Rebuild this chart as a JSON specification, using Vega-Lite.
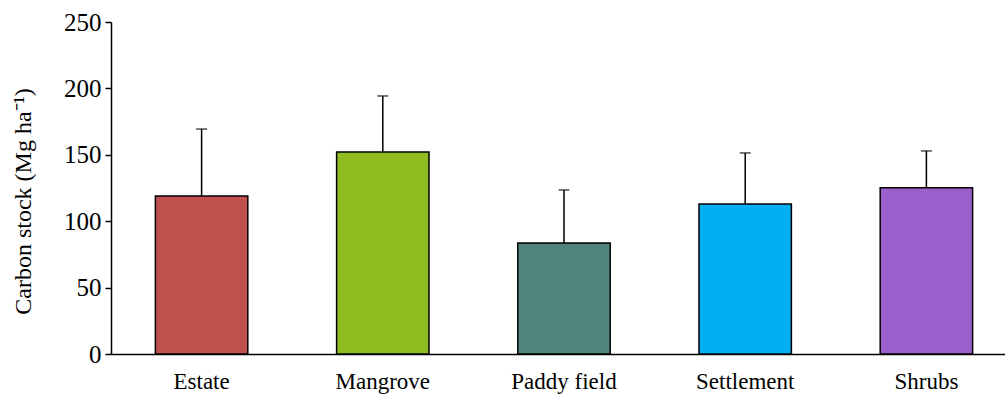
{
  "$schema": "https://vega.github.io/schema/vega-lite/v6.json",
  "autosize": "none",
  "width": 906,
  "height": 332,
  "padding": {"left": 111, "top": 22, "right": 0, "bottom": 40},
  "background": "white",
  "config": {
    "view": {"stroke": null},
    "font": "Liberation Serif",
    "axis": {"grid": false, "domainColor": "black", "domainWidth": 1.5, "tickColor": "black", "tickWidth": 1.5, "labelColor": "black", "titleColor": "black", "labelFont": "Liberation Serif", "titleFont": "Liberation Serif", "labelFontSize": 23, "titleFontSize": 24, "titleFontWeight": "normal"}
  },
  "data": {
    "values": [
      {"landuse": "Estate", "stock": 119.0, "upper": 169.4},
      {"landuse": "Mangrove", "stock": 152.1, "upper": 194.3},
      {"landuse": "Paddy field", "stock": 83.6, "upper": 123.5},
      {"landuse": "Settlement", "stock": 113.0, "upper": 151.4},
      {"landuse": "Shrubs", "stock": 125.2, "upper": 152.9}
    ]
  },
  "encoding": {
    "x": {
      "field": "landuse", "type": "nominal", "sort": null,
      "scale": {"paddingInner": 0.49, "paddingOuter": 0.245},
      "axis": {"title": null, "labelAngle": 0, "ticks": false, "labelPadding": 16}
    }
  },
  "layer": [
    {
      "mark": {"type": "rule", "color": "black", "strokeWidth": 1.5},
      "encoding": {
        "y": {"field": "stock", "type": "quantitative"},
        "y2": {"field": "upper"}
      }
    },
    {
      "mark": {"type": "tick", "color": "black", "thickness": 1.5, "size": 11, "orient": "horizontal"},
      "encoding": {
        "y": {"field": "upper", "type": "quantitative"}
      }
    },
    {
      "mark": {"type": "bar", "stroke": "black", "strokeWidth": 1.5},
      "encoding": {
        "y": {
          "field": "stock", "type": "quantitative",
          "scale": {"domain": [0, 250], "nice": false},
          "axis": {"values": [0, 50, 100, 150, 200, 250], "tickSize": 6, "labelPadding": 4, "labelFontSize": 25, "title": "Carbon stock (Mg ha⁻¹)", "titlePadding": 28, "titleY": 179}
        },
        "color": {
          "field": "landuse", "type": "nominal", "legend": null,
          "scale": {"domain": ["Estate", "Mangrove", "Paddy field", "Settlement", "Shrubs"], "range": ["#C0504D", "#8FBC1F", "#4E837E", "#00B0F0", "#9A5FCD"]}
        }
      }
    }
  ]
}
